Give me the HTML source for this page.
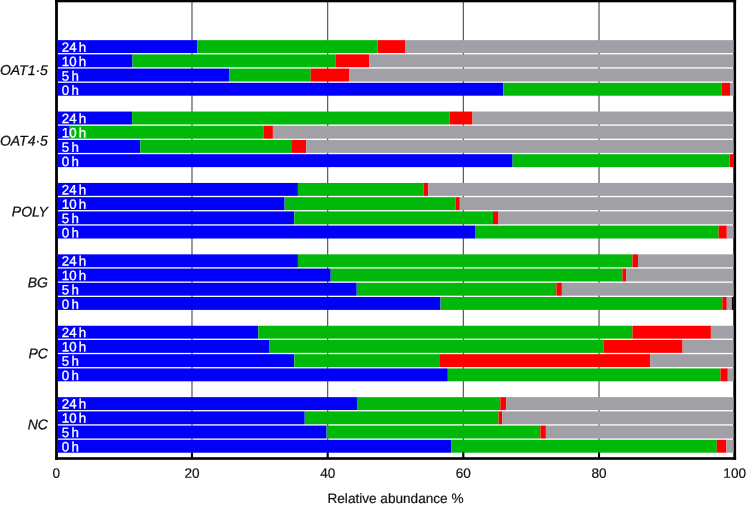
<!DOCTYPE html>
<html><head><meta charset="utf-8"><title>Relative abundance</title>
<style>
html,body{margin:0;padding:0;background:#fff;}
body{width:746px;height:506px;overflow:hidden;}
svg{display:block;text-rendering:geometricPrecision;font-family:"Liberation Sans",Arial,Helvetica,sans-serif;}
.bl{fill:#fff;font-size:13.3px;stroke:#fff;stroke-width:0.3px;}
.gl{fill:#111;font-size:14px;font-style:italic;stroke:#111;stroke-width:0.25px;}
.tk{fill:#111;font-size:13.6px;text-anchor:middle;stroke:#111;stroke-width:0.2px;}
</style></head><body>
<svg width="746" height="506" viewBox="0 0 746 506">
<rect x="0" y="0" width="746" height="506" fill="#fff"/>

<rect x="191.38" y="2" width="1.2" height="456" fill="#585858"/>
<rect x="327.06" y="2" width="1.2" height="456" fill="#585858"/>
<rect x="462.74" y="2" width="1.2" height="456" fill="#585858"/>
<rect x="598.42" y="2" width="1.2" height="456" fill="#585858"/>
<rect x="55.1" y="0" width="2.8" height="459.8" fill="#000"/>
<rect x="733.3" y="0" width="2.8" height="459.8" fill="#000"/>
<rect x="55.1" y="0" width="681" height="2.3" fill="#000"/>
<rect x="55.1" y="457.2" width="681" height="2.6" fill="#000"/>
<rect x="57.0" y="40.15" width="140.2" height="12.9" fill="#0000f8"/>
<rect x="197.2" y="40.15" width="180.5" height="12.9" fill="#00b80a"/>
<rect x="377.7" y="40.15" width="27.8" height="12.9" fill="#ff0000"/>
<rect x="405.5" y="40.15" width="328.1" height="12.9" fill="#a0a0a6"/>
<text class="bl" x="61.8" y="51.70" transform="rotate(0.03 61.8 51.70)">24<tspan dx="2.2">h</tspan></text>
<rect x="57.0" y="54.37" width="75.5" height="12.9" fill="#0000f8"/>
<rect x="132.5" y="54.37" width="202.9" height="12.9" fill="#00b80a"/>
<rect x="335.4" y="54.37" width="33.7" height="12.9" fill="#ff0000"/>
<rect x="369.1" y="54.37" width="364.5" height="12.9" fill="#a0a0a6"/>
<text class="bl" x="61.8" y="66.05" transform="rotate(0.03 61.8 66.05)">10<tspan dx="2.2">h</tspan></text>
<rect x="57.0" y="68.59" width="172.1" height="12.9" fill="#0000f8"/>
<rect x="229.1" y="68.59" width="81.6" height="12.9" fill="#00b80a"/>
<rect x="310.7" y="68.59" width="38.7" height="12.9" fill="#ff0000"/>
<rect x="349.4" y="68.59" width="384.2" height="12.9" fill="#a0a0a6"/>
<text class="bl" x="61.8" y="80.40" transform="rotate(0.03 61.8 80.40)">5<tspan dx="2.2">h</tspan></text>
<rect x="57.0" y="82.81" width="446.4" height="12.9" fill="#0000f8"/>
<rect x="503.5" y="82.81" width="217.9" height="12.9" fill="#00b80a"/>
<rect x="721.4" y="82.81" width="8.6" height="12.9" fill="#ff0000"/>
<rect x="730.0" y="82.81" width="3.6" height="12.9" fill="#a0a0a6"/>
<text class="bl" x="61.8" y="94.75" transform="rotate(0.03 61.8 94.75)">0<tspan dx="2.2">h</tspan></text>
<text class="gl" x="47.9" y="74.90" text-anchor="end" transform="rotate(0.03 47.9 74.90)">OAT1·5</text>
<rect x="57.0" y="111.55" width="75.0" height="12.9" fill="#0000f8"/>
<rect x="132.1" y="111.55" width="317.6" height="12.9" fill="#00b80a"/>
<rect x="449.7" y="111.55" width="22.8" height="12.9" fill="#ff0000"/>
<rect x="472.5" y="111.55" width="261.1" height="12.9" fill="#a0a0a6"/>
<text class="bl" x="61.8" y="123.00" transform="rotate(0.03 61.8 123.00)">24<tspan dx="2.2">h</tspan></text>
<rect x="57.0" y="125.77" width="12.0" height="12.9" fill="#0000f8"/>
<rect x="69.0" y="125.77" width="194.8" height="12.9" fill="#00b80a"/>
<rect x="263.8" y="125.77" width="9.1" height="12.9" fill="#ff0000"/>
<rect x="272.9" y="125.77" width="460.7" height="12.9" fill="#a0a0a6"/>
<text class="bl" x="61.8" y="137.35" transform="rotate(0.03 61.8 137.35)">10<tspan dx="2.2">h</tspan></text>
<rect x="57.0" y="139.99" width="83.3" height="12.9" fill="#0000f8"/>
<rect x="140.3" y="139.99" width="151.7" height="12.9" fill="#00b80a"/>
<rect x="292.0" y="139.99" width="14.2" height="12.9" fill="#ff0000"/>
<rect x="306.2" y="139.99" width="427.4" height="12.9" fill="#a0a0a6"/>
<text class="bl" x="61.8" y="151.70" transform="rotate(0.03 61.8 151.70)">5<tspan dx="2.2">h</tspan></text>
<rect x="57.0" y="154.21" width="455.6" height="12.9" fill="#0000f8"/>
<rect x="512.6" y="154.21" width="217.0" height="12.9" fill="#00b80a"/>
<rect x="729.6" y="154.21" width="4.0" height="12.9" fill="#ff0000"/>
<text class="bl" x="61.8" y="166.05" transform="rotate(0.03 61.8 166.05)">0<tspan dx="2.2">h</tspan></text>
<text class="gl" x="47.9" y="145.60" text-anchor="end" transform="rotate(0.03 47.9 145.60)">OAT4·5</text>
<rect x="57.0" y="182.95" width="240.9" height="12.9" fill="#0000f8"/>
<rect x="298.0" y="182.95" width="125.7" height="12.9" fill="#00b80a"/>
<rect x="423.7" y="182.95" width="4.6" height="12.9" fill="#ff0000"/>
<rect x="428.3" y="182.95" width="305.3" height="12.9" fill="#a0a0a6"/>
<text class="bl" x="61.8" y="194.30" transform="rotate(0.03 61.8 194.30)">24<tspan dx="2.2">h</tspan></text>
<rect x="57.0" y="197.17" width="227.6" height="12.9" fill="#0000f8"/>
<rect x="284.7" y="197.17" width="171.0" height="12.9" fill="#00b80a"/>
<rect x="455.7" y="197.17" width="4.1" height="12.9" fill="#ff0000"/>
<rect x="459.8" y="197.17" width="273.8" height="12.9" fill="#a0a0a6"/>
<text class="bl" x="61.8" y="208.65" transform="rotate(0.03 61.8 208.65)">10<tspan dx="2.2">h</tspan></text>
<rect x="57.0" y="211.39" width="237.2" height="12.9" fill="#0000f8"/>
<rect x="294.3" y="211.39" width="198.7" height="12.9" fill="#00b80a"/>
<rect x="493.0" y="211.39" width="5.5" height="12.9" fill="#ff0000"/>
<rect x="498.5" y="211.39" width="235.1" height="12.9" fill="#a0a0a6"/>
<text class="bl" x="61.8" y="223.00" transform="rotate(0.03 61.8 223.00)">5<tspan dx="2.2">h</tspan></text>
<rect x="57.0" y="225.61" width="418.6" height="12.9" fill="#0000f8"/>
<rect x="475.7" y="225.61" width="242.9" height="12.9" fill="#00b80a"/>
<rect x="718.6" y="225.61" width="8.2" height="12.9" fill="#ff0000"/>
<rect x="726.8" y="225.61" width="6.8" height="12.9" fill="#a0a0a6"/>
<text class="bl" x="61.8" y="237.35" transform="rotate(0.03 61.8 237.35)">0<tspan dx="2.2">h</tspan></text>
<text class="gl" x="47.9" y="216.40" text-anchor="end" transform="rotate(0.03 47.9 216.40)">POLY</text>
<rect x="57.0" y="254.35" width="240.9" height="12.9" fill="#0000f8"/>
<rect x="298.0" y="254.35" width="334.5" height="12.9" fill="#00b80a"/>
<rect x="632.5" y="254.35" width="5.5" height="12.9" fill="#ff0000"/>
<rect x="638.0" y="254.35" width="95.6" height="12.9" fill="#a0a0a6"/>
<text class="bl" x="61.8" y="265.60" transform="rotate(0.03 61.8 265.60)">24<tspan dx="2.2">h</tspan></text>
<rect x="57.0" y="268.57" width="273.7" height="12.9" fill="#0000f8"/>
<rect x="330.8" y="268.57" width="291.7" height="12.9" fill="#00b80a"/>
<rect x="622.5" y="268.57" width="3.6" height="12.9" fill="#ff0000"/>
<rect x="626.1" y="268.57" width="107.5" height="12.9" fill="#a0a0a6"/>
<text class="bl" x="61.8" y="279.95" transform="rotate(0.03 61.8 279.95)">10<tspan dx="2.2">h</tspan></text>
<rect x="57.0" y="282.79" width="299.7" height="12.9" fill="#0000f8"/>
<rect x="356.8" y="282.79" width="199.6" height="12.9" fill="#00b80a"/>
<rect x="556.4" y="282.79" width="5.5" height="12.9" fill="#ff0000"/>
<rect x="561.9" y="282.79" width="171.7" height="12.9" fill="#a0a0a6"/>
<text class="bl" x="61.8" y="294.30" transform="rotate(0.03 61.8 294.30)">5<tspan dx="2.2">h</tspan></text>
<rect x="57.0" y="297.01" width="383.5" height="12.9" fill="#0000f8"/>
<rect x="440.6" y="297.01" width="281.7" height="12.9" fill="#00b80a"/>
<rect x="722.3" y="297.01" width="4.5" height="12.9" fill="#ff0000"/>
<rect x="726.8" y="297.01" width="5.1" height="12.9" fill="#a0a0a6"/>
<rect x="731.9" y="297.01" width="1.7" height="12.9" fill="#000000"/>
<text class="bl" x="61.8" y="308.65" transform="rotate(0.03 61.8 308.65)">0<tspan dx="2.2">h</tspan></text>
<text class="gl" x="47.9" y="287.30" text-anchor="end" transform="rotate(0.03 47.9 287.30)">BG</text>
<rect x="57.0" y="325.75" width="201.2" height="12.9" fill="#0000f8"/>
<rect x="258.3" y="325.75" width="374.2" height="12.9" fill="#00b80a"/>
<rect x="632.5" y="325.75" width="78.4" height="12.9" fill="#ff0000"/>
<rect x="710.9" y="325.75" width="22.7" height="12.9" fill="#a0a0a6"/>
<text class="bl" x="61.8" y="336.90" transform="rotate(0.03 61.8 336.90)">24<tspan dx="2.2">h</tspan></text>
<rect x="57.0" y="339.97" width="212.6" height="12.9" fill="#0000f8"/>
<rect x="269.7" y="339.97" width="334.1" height="12.9" fill="#00b80a"/>
<rect x="603.8" y="339.97" width="78.8" height="12.9" fill="#ff0000"/>
<rect x="682.6" y="339.97" width="51.0" height="12.9" fill="#a0a0a6"/>
<text class="bl" x="61.8" y="351.25" transform="rotate(0.03 61.8 351.25)">10<tspan dx="2.2">h</tspan></text>
<rect x="57.0" y="354.19" width="237.2" height="12.9" fill="#0000f8"/>
<rect x="294.3" y="354.19" width="144.9" height="12.9" fill="#00b80a"/>
<rect x="439.2" y="354.19" width="211.1" height="12.9" fill="#ff0000"/>
<rect x="650.3" y="354.19" width="83.3" height="12.9" fill="#a0a0a6"/>
<text class="bl" x="61.8" y="365.60" transform="rotate(0.03 61.8 365.60)">5<tspan dx="2.2">h</tspan></text>
<rect x="57.0" y="368.41" width="390.8" height="12.9" fill="#0000f8"/>
<rect x="447.9" y="368.41" width="272.6" height="12.9" fill="#00b80a"/>
<rect x="720.5" y="368.41" width="7.3" height="12.9" fill="#ff0000"/>
<rect x="727.8" y="368.41" width="5.8" height="12.9" fill="#a0a0a6"/>
<text class="bl" x="61.8" y="379.95" transform="rotate(0.03 61.8 379.95)">0<tspan dx="2.2">h</tspan></text>
<text class="gl" x="47.9" y="358.20" text-anchor="end" transform="rotate(0.03 47.9 358.20)">PC</text>
<rect x="57.0" y="397.15" width="300.6" height="12.9" fill="#0000f8"/>
<rect x="357.7" y="397.15" width="142.6" height="12.9" fill="#00b80a"/>
<rect x="500.3" y="397.15" width="5.9" height="12.9" fill="#ff0000"/>
<rect x="506.2" y="397.15" width="227.4" height="12.9" fill="#a0a0a6"/>
<text class="bl" x="61.8" y="408.20" transform="rotate(0.03 61.8 408.20)">24<tspan dx="2.2">h</tspan></text>
<rect x="57.0" y="411.37" width="247.7" height="12.9" fill="#0000f8"/>
<rect x="304.8" y="411.37" width="193.7" height="12.9" fill="#00b80a"/>
<rect x="498.5" y="411.37" width="3.6" height="12.9" fill="#ff0000"/>
<rect x="502.1" y="411.37" width="231.5" height="12.9" fill="#a0a0a6"/>
<text class="bl" x="61.8" y="422.55" transform="rotate(0.03 61.8 422.55)">10<tspan dx="2.2">h</tspan></text>
<rect x="57.0" y="425.59" width="269.6" height="12.9" fill="#0000f8"/>
<rect x="326.7" y="425.59" width="213.7" height="12.9" fill="#00b80a"/>
<rect x="540.4" y="425.59" width="5.5" height="12.9" fill="#ff0000"/>
<rect x="545.9" y="425.59" width="187.7" height="12.9" fill="#a0a0a6"/>
<text class="bl" x="61.8" y="436.90" transform="rotate(0.03 61.8 436.90)">5<tspan dx="2.2">h</tspan></text>
<rect x="57.0" y="439.81" width="394.0" height="12.9" fill="#0000f8"/>
<rect x="451.1" y="439.81" width="265.7" height="12.9" fill="#00b80a"/>
<rect x="716.8" y="439.81" width="9.6" height="12.9" fill="#ff0000"/>
<rect x="726.4" y="439.81" width="7.2" height="12.9" fill="#a0a0a6"/>
<text class="bl" x="61.8" y="451.25" transform="rotate(0.03 61.8 451.25)">0<tspan dx="2.2">h</tspan></text>
<text class="gl" x="47.9" y="429.20" text-anchor="end" transform="rotate(0.03 47.9 429.20)">NC</text>
<rect x="190.93" y="452.5" width="2.1" height="5.5" fill="#000"/>
<rect x="326.61" y="452.5" width="2.1" height="5.5" fill="#000"/>
<rect x="462.29" y="452.5" width="2.1" height="5.5" fill="#000"/>
<rect x="597.97" y="452.5" width="2.1" height="5.5" fill="#000"/>
<text class="tk" x="56.3" y="477.7" transform="rotate(0.03 56.3 477.7)">0</text>
<text class="tk" x="192.0" y="477.7" transform="rotate(0.03 192.0 477.7)">20</text>
<text class="tk" x="327.7" y="477.7" transform="rotate(0.03 327.7 477.7)">40</text>
<text class="tk" x="463.3" y="477.7" transform="rotate(0.03 463.3 477.7)">60</text>
<text class="tk" x="599.0" y="477.7" transform="rotate(0.03 599.0 477.7)">80</text>
<text class="tk" x="734.7" y="477.7" transform="rotate(0.03 734.7 477.7)">100</text>
<text class="tk" x="395.5" y="503" transform="rotate(0.02 395.5 503)">Relative abundance %</text>
</svg></body></html>
